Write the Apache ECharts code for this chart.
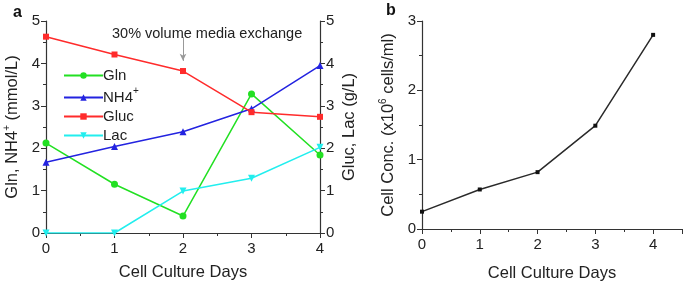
<!DOCTYPE html>
<html>
<head>
<meta charset="utf-8">
<script src="https://cdn.jsdelivr.net/npm/echarts@6/dist/echarts.min.js"></script>
<style>
  html, body { margin: 0; padding: 0; background: #fff; }
  #chart { width: 685px; height: 283px; }
</style>
</head>
<body>
<div id="chart"></div>
<script>
// panel a: media components over culture days
const days = [0, 1, 2, 3, 4];
const gln = [2.12, 1.15, 0.40, 3.28, 1.84];
const nh4 = [1.67, 2.04, 2.39, 2.93, 3.95];
const gluc = [4.63, 4.21, 3.82, 2.85, 2.74];
const lac = [0, 0, 0.99, 1.29, 2.02];
// panel b: cell concentration
const cellConc = [0.25, 0.57, 0.82, 1.49, 2.80];
// media exchange arrow (day, value range)
const exchangeArrow = [[2, 4.62], [2, 4.06]];

const FONT = 'Liberation Sans, Arial, sans-serif';
const AXIS_COLOR = '#333';
const pairs = (ys) => days.map((d, i) => [d, ys[i]]);

const supRich = {
  sup: { fontSize: 10, fontFamily: FONT, color: '#222', verticalAlign: 'bottom', padding: [0, 0, 10, 0] },
};

const valueAxisBase = {
  type: 'value',
  axisLine: { show: true, lineStyle: { color: AXIS_COLOR, width: 1.2 } },
  axisTick: { show: true, length: 5, lineStyle: { color: AXIS_COLOR } },
  minorTick: { show: true, splitNumber: 2, length: 3, lineStyle: { color: AXIS_COLOR } },
  splitLine: { show: false },
  axisLabel: { color: '#222', fontSize: 15, fontFamily: FONT, margin: 6 },
  nameLocation: 'middle',
  nameMoveOverlap: false,
  nameTextStyle: { color: '#222', fontSize: 16.5, fontFamily: FONT, rich: supRich },
};

const lineSeries = (name, data, color, symbol, size, yAxisIndex, extra) => Object.assign({
  name,
  type: 'line',
  xAxisIndex: 0,
  yAxisIndex,
  data: pairs(data),
  symbol,
  symbolSize: size,
  lineStyle: { color, width: 1.5 },
  itemStyle: { color },
  z: 3,
}, extra || {});

const chart = echarts.init(document.getElementById('chart'), null, { renderer: 'canvas' });

chart.setOption({
  backgroundColor: '#fff',
  animation: false,
  textStyle: { fontFamily: FONT },
  title: [
    { text: 'a', left: 8, top: 0, textStyle: { fontSize: 16, fontWeight: 'bold', color: '#111', fontFamily: FONT } },
    { text: 'b', left: 381, top: -2, textStyle: { fontSize: 16, fontWeight: 'bold', color: '#111', fontFamily: FONT } },
  ],
  graphic: [
    { type: 'text', left: 112, top: 26, style: { text: '30% volume media exchange', fontSize: 14.5, fontFamily: FONT, fill: '#222' } },
  ],
  legend: {
    orient: 'vertical',
    left: 58,
    top: 62,
    itemWidth: 39,
    itemHeight: 8,
    itemGap: 2,
    textStyle: { color: '#222', fontSize: 15, lineHeight: 17, fontFamily: FONT, rich: supRich, padding: [0, 0, 0, -5] },
    data: ['Gln', 'NH4+', 'Gluc', 'Lac'],
    formatter: (n) => (n === 'NH4+' ? 'NH4{sup|+}' : n),
  },
  grid: [
    { left: 46, right: 365, top: 21, bottom: 50, outerBoundsMode: 'none', containLabel: false },
    { left: 422, right: 3, top: 21, bottom: 54, outerBoundsMode: 'none', containLabel: false },
  ],
  xAxis: [
    Object.assign({}, valueAxisBase, {
      gridIndex: 0, min: 0, max: 4, interval: 1,
      name: 'Cell Culture Days', nameGap: 31,
      axisLabel: Object.assign({}, valueAxisBase.axisLabel, { margin: 8 }),
    }),
    Object.assign({}, valueAxisBase, {
      gridIndex: 1, min: 0, max: 4.5, interval: 1,
      name: 'Cell Culture Days', nameGap: 36,
      axisLabel: Object.assign({}, valueAxisBase.axisLabel, {
        margin: 8, showMaxLabel: false,
        formatter: (v) => (Number.isInteger(v) ? String(v) : ''),
      }),
    }),
  ],
  yAxis: [
    Object.assign({}, valueAxisBase, {
      gridIndex: 0, min: 0, max: 5, interval: 1, position: 'left',
      name: 'Gln, NH4{sup|+} (mmol/L)', nameGap: 24,
    }),
    Object.assign({}, valueAxisBase, {
      gridIndex: 0, min: 0, max: 5, interval: 1, position: 'right',
      name: 'Gluc, Lac (g/L)', nameGap: 21, nameRotate: 90,
    }),
    Object.assign({}, valueAxisBase, {
      gridIndex: 1, min: 0, max: 3, interval: 1, position: 'left',
      name: 'Cell Conc. (x10{sup|6} cells/ml)', nameGap: 24,
    }),
  ],
  series: [
    lineSeries('Gln', gln, '#22e022', 'circle', 7, 0),
    lineSeries('NH4+', nh4, '#2323e0', 'triangle', 7, 0),
    lineSeries('Gluc', gluc, '#ff2b2b', 'rect', 6, 1, {
      markLine: {
        silent: true,
        symbol: ['none', 'arrow'],
        symbolSize: [5, 7],
        label: { show: false },
        lineStyle: { color: '#999', type: 'solid', width: 1 },
        data: [[{ coord: exchangeArrow[0] }, { coord: exchangeArrow[1] }]],
      },
    }),
    lineSeries('Lac', lac, '#22eeee', 'triangle', 7, 1, { symbolRotate: 180 }),
    {
      name: 'Cell Conc.',
      type: 'line',
      xAxisIndex: 1,
      yAxisIndex: 2,
      data: pairs(cellConc),
      symbol: 'rect',
      symbolSize: 4,
      lineStyle: { color: '#2a2a2a', width: 1.5 },
      itemStyle: { color: '#111' },
    },
  ],
});
</script>
</body>
</html>
